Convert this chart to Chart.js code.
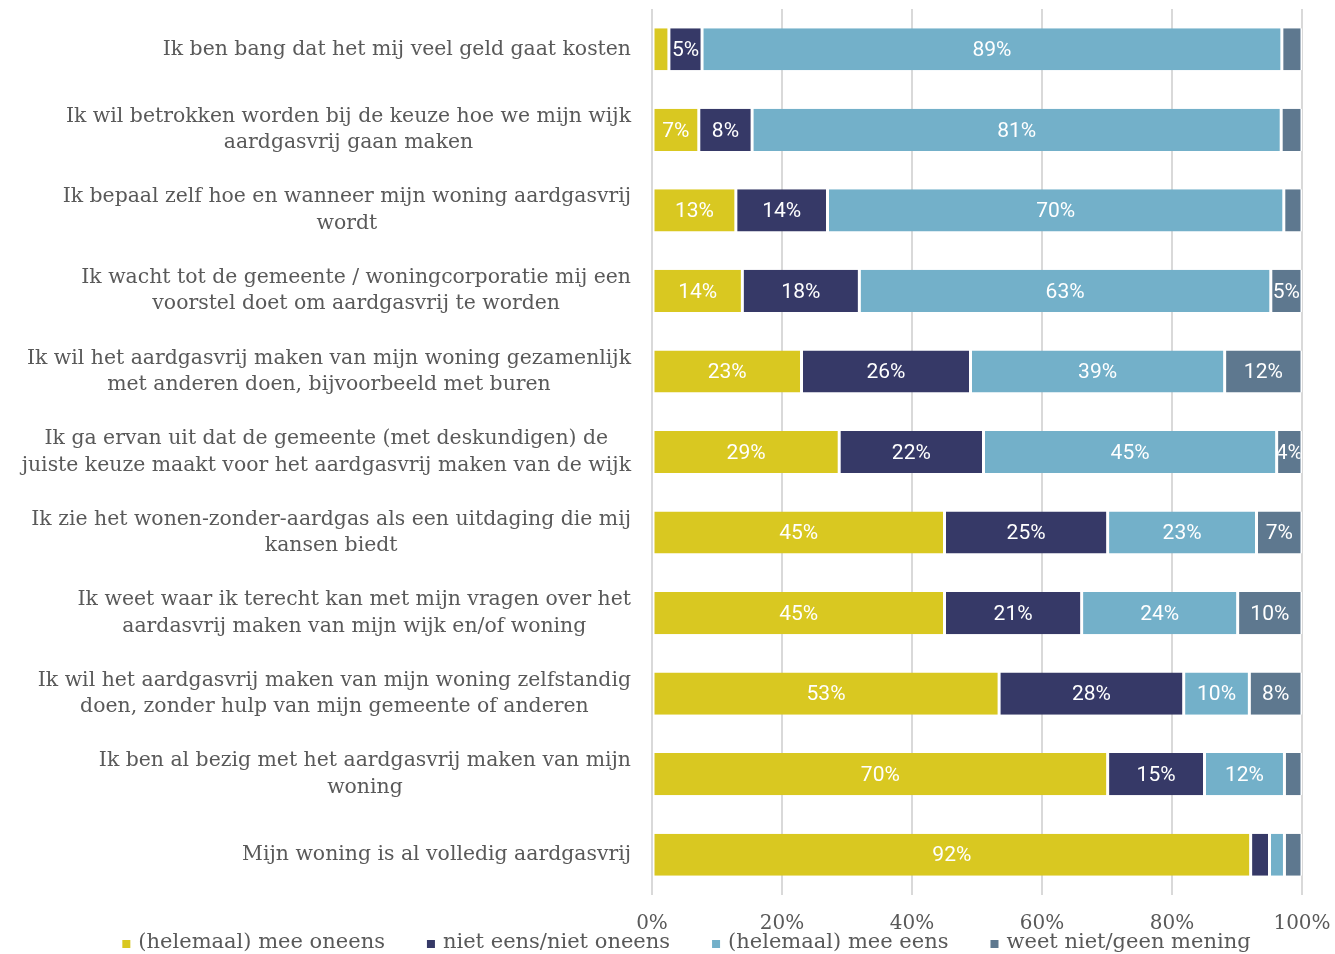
<!DOCTYPE html>
<html>
<head>
<meta charset="utf-8">
<script src="https://cdn.jsdelivr.net/npm/chart.js@4.4.1/dist/chart.umd.min.js"></script>
<style>
  html, body { margin: 0; padding: 0; background: #fff; overflow: hidden; }
  #wrap { width: 1335px; height: 954px; position: relative; }
</style>
</head>
<body>
<div id="wrap"><canvas id="chart"></canvas></div>
<script>
// stellingen (regels van de grafiek)
const categories = [
  ['Ik ben bang dat het mij veel geld gaat kosten'],
  ['Ik wil betrokken worden bij de keuze hoe we mijn wijk', 'aardgasvrij gaan maken'],
  ['Ik bepaal zelf hoe en wanneer mijn woning aardgasvrij', 'wordt'],
  ['Ik wacht tot de gemeente / woningcorporatie mij een', 'voorstel doet om aardgasvrij te worden'],
  ['Ik wil het aardgasvrij maken van mijn woning gezamenlijk', 'met anderen doen, bijvoorbeeld met buren'],
  ['Ik ga ervan uit dat de gemeente (met deskundigen) de', 'juiste keuze maakt voor het aardgasvrij maken van de wijk'],
  ['Ik zie het wonen-zonder-aardgas als een uitdaging die mij', 'kansen biedt'],
  ['Ik weet waar ik terecht kan met mijn vragen over het', 'aardasvrij maken van mijn wijk en/of woning'],
  ['Ik wil het aardgasvrij maken van mijn woning zelfstandig', 'doen, zonder hulp van mijn gemeente of anderen'],
  ['Ik ben al bezig met het aardgasvrij maken van mijn', 'woning'],
  ['Mijn woning is al volledig aardgasvrij']
];

const seriesNames = ['(helemaal) mee oneens', 'niet eens/niet oneens', '(helemaal) mee eens', 'weet niet/geen mening'];
const seriesColors = ['#D9C821', '#363967', '#73B0C9', '#5E788F'];

// percentages per antwoord
const meeOneens   = [2.6, 7.2, 12.9, 13.9, 23.0, 28.8, 45.0, 45.0, 53.4, 70.1, 92.1];
const neutraal    = [5.1, 8.2, 14.1, 18.0, 26.0, 22.2, 25.1, 21.1, 28.4, 14.9, 2.9];
const meeEens     = [89.2, 81.4, 70.2, 63.3, 39.1, 45.1, 22.9, 24.0, 10.1, 12.3, 2.3];
const weetNiet    = [3.1, 3.2, 2.8, 4.8, 11.9, 3.9, 7.0, 9.9, 8.1, 2.7, 2.7];

const xTicks = [0, 20, 40, 60, 80, 100];

const serifFont = '"DejaVu Serif", serif';
const labelColor = '#595959';

// percentages in de balken, afgekapt op de rand van het stukje
const barLabels = {
  id: 'barLabels',
  afterDatasetsDraw(chart) {
    const ctx = chart.ctx;
    ctx.save();
    ctx.font = '21px Roboto, sans-serif';
    ctx.fillStyle = '#ffffff';
    ctx.textAlign = 'center';
    ctx.textBaseline = 'middle';
    chart.data.datasets.forEach((ds, i) => {
      chart.getDatasetMeta(i).data.forEach((bar, j) => {
        const v = Math.round(ds.data[j]);
        if (v < 4) return;
        const p = bar.getProps(['x', 'y', 'base', 'height'], true);
        const left = Math.min(p.x, p.base) + 1.5;
        const right = Math.max(p.x, p.base) - 1.5;
        ctx.save();
        ctx.beginPath();
        ctx.rect(left, p.y - p.height / 2, right - left, p.height);
        ctx.clip();
        ctx.fillText(v + '%', (left + right) / 2, p.y + 1.5);
        ctx.restore();
      });
    });
    ctx.restore();
  }
};

// categorie teksten: blok rechts uitgelijnd, regels onderling gecentreerd
const categoryLabels = {
  id: 'categoryLabels',
  afterDraw(chart) {
    const ctx = chart.ctx;
    const yScale = chart.scales.y;
    const rightEdge = chart.chartArea.left - 21;
    ctx.save();
    ctx.font = '20.4px ' + serifFont;
    ctx.fillStyle = labelColor;
    ctx.textAlign = 'center';
    ctx.textBaseline = 'middle';
    categories.forEach((lines, j) => {
      const yc = yScale.getPixelForValue(j);
      const w = Math.max(...lines.map(l => ctx.measureText(l).width));
      const cx = rightEdge - w / 2;
      lines.forEach((l, k) => {
        ctx.fillText(l, cx, yc + (k - (lines.length - 1) / 2) * 26.5);
      });
    });
    ctx.restore();
  }
};

// legenda onderaan
const bottomLegend = {
  id: 'bottomLegend',
  afterDraw(chart) {
    const ctx = chart.ctx;
    const box = 8, boxGap = 8, itemGap = 42, yc = 943;
    ctx.save();
    ctx.font = '21px ' + serifFont;
    ctx.textBaseline = 'middle';
    ctx.textAlign = 'left';
    const widths = seriesNames.map(n => ctx.measureText(n).width);
    const total = widths.reduce((a, w) => a + box + boxGap + w, 0) + itemGap * (seriesNames.length - 1);
    let x = 686.5 - total / 2;
    seriesNames.forEach((n, i) => {
      ctx.fillStyle = seriesColors[i];
      ctx.fillRect(x, yc - box / 2 + 1, box, box);
      ctx.fillStyle = labelColor;
      ctx.fillText(n, x + box + boxGap, yc);
      x += box + boxGap + widths[i] + itemGap;
    });
    ctx.restore();
  }
};

const seriesValues = [meeOneens, neutraal, meeEens, weetNiet];

new Chart(document.getElementById('chart'), {
  type: 'bar',
  data: {
    labels: categories,
    datasets: seriesNames.map((name, i) => ({
      label: name,
      data: seriesValues[i],
      backgroundColor: seriesColors[i],
      borderColor: '#ffffff',
      borderWidth: { left: 1.5, right: 1.5, top: 0, bottom: 0 },
      borderSkipped: false,
      categoryPercentage: 1,
      barPercentage: 0.523
    }))
  },
  options: {
    indexAxis: 'y',
    responsive: true,
    maintainAspectRatio: false,
    devicePixelRatio: 1,
    animation: false,
    layout: { padding: { top: 9, right: 33, bottom: 1, left: 0 } },
    plugins: {
      legend: { display: false },
      tooltip: { enabled: false }
    },
    scales: {
      x: {
        stacked: true,
        min: 0,
        max: 100,
        afterBuildTicks: s => { s.ticks = xTicks.map(v => ({ value: v })); },
        afterFit: s => { s.paddingLeft = 0; s.paddingRight = 0; },
        ticks: {
          callback: v => v + '%',
          font: { family: serifFont, size: 20 },
          color: labelColor,
          padding: 17,
          maxRotation: 0
        },
        grid: { color: '#d9d9d9', lineWidth: 2, drawTicks: false },
        border: { display: false }
      },
      y: {
        stacked: true,
        ticks: { display: false },
        grid: { display: false },
        border: { display: false },
        afterFit: s => { s.width = 652; }
      }
    }
  },
  plugins: [barLabels, categoryLabels, bottomLegend]
});
</script>
</body>
</html>
